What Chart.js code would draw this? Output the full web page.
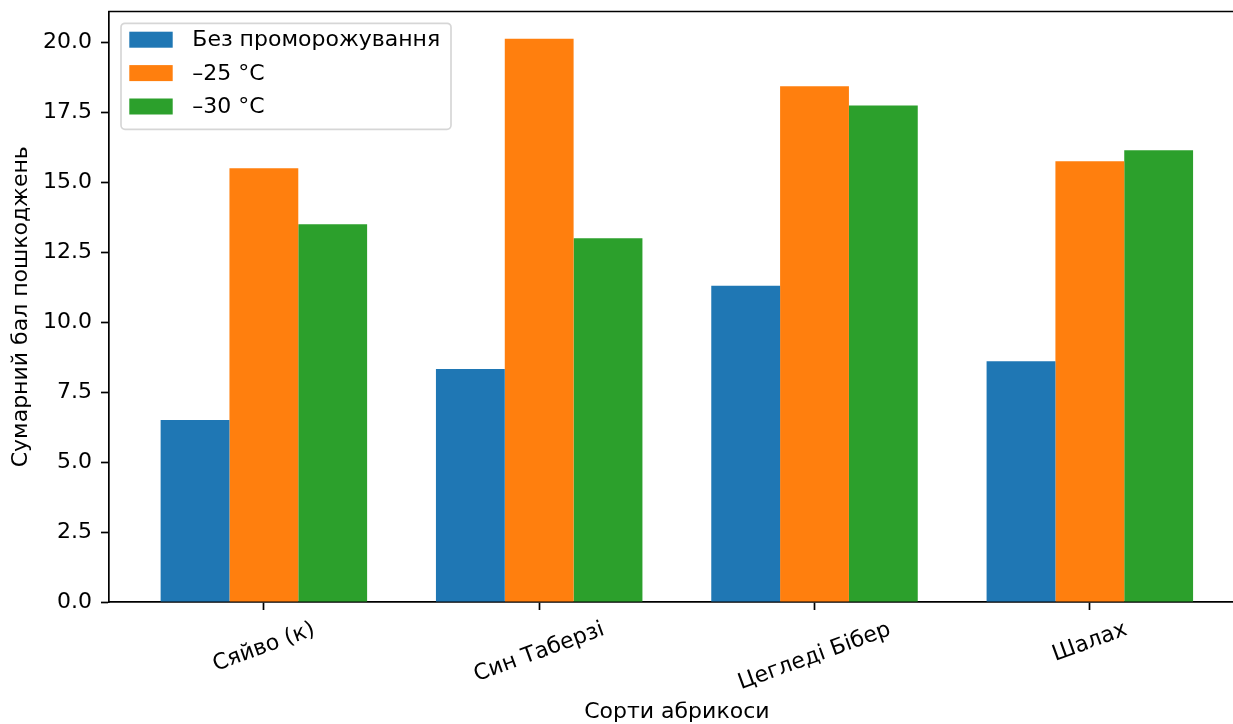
<!DOCTYPE html>
<html>
<head>
<meta charset="utf-8">
<script src="https://cdn.jsdelivr.net/npm/chart.js@4"></script>
<style>
html, body { margin: 0; padding: 0; background: #fff; }
#wrap { width: 1233px; height: 724px; }
</style>
</head>
<body>
<div id="wrap"><canvas id="damageChart"></canvas></div>
<script>
const varieties = ['Сяйво (к)', 'Син Таберзі', 'Цегледі Бібер', 'Шалах'];
const seriesNames = ['Без проморожування', '–25 °C', '–30 °C'];
const noFrost = [6.5, 8.33, 11.3, 8.6];
const minus25 = [15.5, 20.13, 18.43, 15.75];
const minus30 = [13.5, 13.0, 17.74, 16.14];
const yTicks = [0, 2.5, 5, 7.5, 10, 12.5, 15, 17.5, 20];
const colors = ['#1f77b4', '#ff7f0e', '#2ca02c'];
const xTitle = 'Сорти абрикоси';

Chart.defaults.font.family = '"DejaVu Sans"';
Chart.defaults.font.size = 22;
Chart.defaults.color = '#000';

const toPoints = vals => vals.map((v, i) => ({ x: i, y: v }));

// top spine, rotated category labels (centered like matplotlib), x title, legend box
const extras = {
    id: 'extras',
    afterDraw(chart) {
        const ctx = chart.ctx;
        const a = chart.chartArea;
        const xs = chart.scales.x;
        ctx.save();

        ctx.strokeStyle = '#000';
        ctx.lineWidth = 1.7;
        ctx.beginPath();
        ctx.moveTo(a.left - 0.85, a.top);
        ctx.lineTo(a.right, a.top);
        ctx.stroke();

        ctx.font = '22px "DejaVu Sans"';
        ctx.fillStyle = '#000';
        const ang = 20 * Math.PI / 180;
        varieties.forEach((name, i) => {
            const px = xs.getPixelForValue(i);
            const w = ctx.measureText(name).width;
            const bh = w * Math.sin(ang) + 25.6 * Math.cos(ang);
            const cy = xs.top + 15 + bh / 2;
            ctx.save();
            ctx.translate(px, cy);
            ctx.rotate(-ang);
            ctx.textAlign = 'center';
            ctx.textBaseline = 'middle';
            ctx.fillText(name, 0, 0);
            ctx.restore();
        });

        // axis title centred on the full (partly cropped) axes width
        ctx.textAlign = 'center';
        ctx.textBaseline = 'middle';
        ctx.fillText(xTitle, xs.getPixelForValue((varieties.length - 1) / 2), chart.height - 12);

        const x0 = a.left + 12, y0 = a.top + 11.8;
        ctx.fillStyle = 'rgba(255,255,255,0.8)';
        ctx.strokeStyle = 'rgba(204,204,204,0.8)';
        ctx.lineWidth = 1.7;
        ctx.beginPath();
        ctx.roundRect(x0, y0, 330, 106, 4);
        ctx.fill();
        ctx.stroke();
        ctx.textBaseline = 'middle';
        ctx.textAlign = 'left';
        chart.data.datasets.forEach((ds, i) => {
            const cy = y0 + 16.4 + i * 33.4;
            ctx.fillStyle = ds.backgroundColor;
            ctx.fillRect(x0 + 8.3, cy - 8, 43.4, 16);
            ctx.fillStyle = '#000';
            ctx.fillText(ds.label, x0 + 71.3, cy + 1);
        });
        ctx.restore();
    }
};

new Chart(document.getElementById('damageChart'), {
    type: 'bar',
    data: {
        datasets: [
            { label: seriesNames[0], data: toPoints(noFrost), backgroundColor: colors[0] },
            { label: seriesNames[1], data: toPoints(minus25), backgroundColor: colors[1] },
            { label: seriesNames[2], data: toPoints(minus30), backgroundColor: colors[2] }
        ]
    },
    options: {
        responsive: true,
        maintainAspectRatio: false,
        animation: false,
        borderWidth: 0,
        categoryPercentage: 0.75,
        barPercentage: 1.0,
        layout: { padding: { top: 11.5, left: 0, right: 0, bottom: 0 } },
        plugins: {
            legend: { display: false },
            tooltip: { enabled: false }
        },
        scales: {
            x: {
                type: 'linear',
                position: 'bottom',
                min: -0.5625,
                max: 3.52,
                offset: false,
                afterBuildTicks: s => { s.ticks = varieties.map((_, i) => ({ value: i })); },
                afterFit: s => { s.height = 122; s.paddingLeft = 0; s.paddingRight = 0; },
                grid: {
                    offset: false,
                    drawOnChartArea: false,
                    drawTicks: true,
                    tickLength: 8,
                    tickWidth: 1.7,
                    tickColor: '#000'
                },
                border: { display: true, color: '#000', width: 1.7 },
                ticks: { display: false }
            },
            y: {
                min: 0,
                max: 21.1,
                afterBuildTicks: s => { s.ticks = yTicks.map(v => ({ value: v })); },
                afterFit: s => { s.width = 109; s.paddingTop = 0; s.paddingBottom = 0; },
                grid: {
                    drawOnChartArea: false,
                    drawTicks: true,
                    tickLength: 8,
                    tickWidth: 1.7,
                    tickColor: '#000'
                },
                border: { display: true, color: '#000', width: 1.7 },
                ticks: {
                    padding: 9,
                    callback: v => v.toFixed(1)
                },
                title: {
                    display: true,
                    text: 'Сумарний бал пошкоджень',
                    font: { size: 22 },
                    padding: { top: 8, bottom: 0 }
                }
            }
        }
    },
    plugins: [extras]
});
</script>
</body>
</html>
